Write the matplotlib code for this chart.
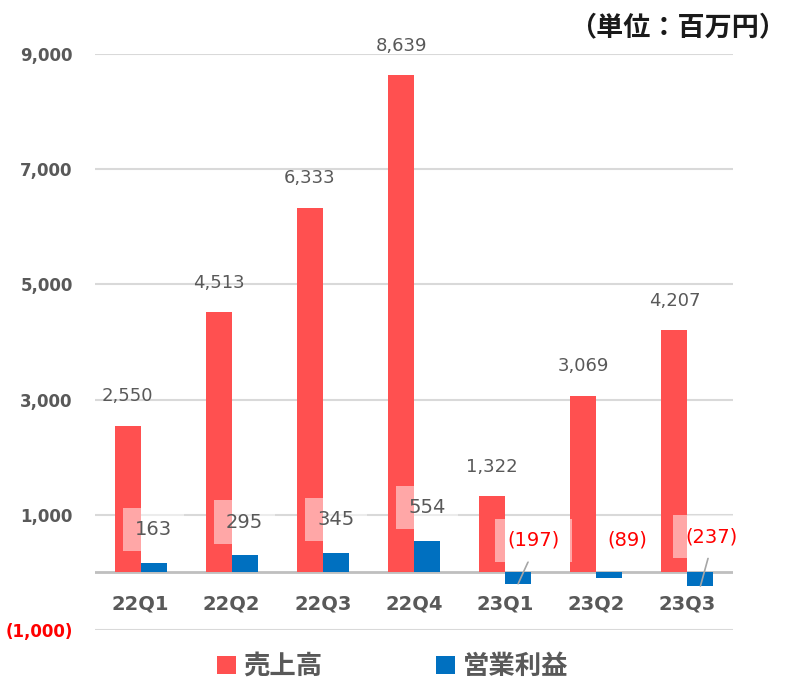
import matplotlib.pyplot as plt

plt.rcParams['font.family'] = ['DejaVu Sans', 'Noto Sans CJK JP']

# data (単位：百万円)
quarters = ['22Q1', '22Q2', '22Q3', '22Q4', '23Q1', '23Q2', '23Q3']
sales = [2550, 4513, 6333, 8639, 1322, 3069, 4207]
op_profit = [163, 295, 345, 554, -197, -89, -237]
y_ticks = [-1000, 1000, 3000, 5000, 7000, 9000]

RED = '#FF5050'
BLUE = '#0070C0'
GRAY = '#595959'


def fmt(v):
    return f'({abs(v):,})' if v < 0 else f'{v:,}'


fig = plt.figure(figsize=(7.87, 6.82), dpi=100)
ax = fig.add_axes([0.1207, 0.0762, 0.8107, 0.8446])

x = range(len(quarters))
w = 0.285
xr = [i - w / 2 for i in x]
xb = [i + w / 2 for i in x]

# gridlines
for t in y_ticks:
    ax.axhline(t, color='#D9D9D9', lw=1.5, zorder=0)
ax.axhline(0, color='#BFBFBF', lw=2, zorder=1)

b1 = ax.bar(xr, sales, w, color=RED, label='売上高', zorder=2)
b2 = ax.bar(xb, op_profit, w, color=BLUE, label='営業利益', zorder=2)

# sales labels
for xi, v in zip(xr, sales):
    ax.annotate(fmt(v), (xi, v), xytext=(0, 21), textcoords='offset points',
                ha='center', va='center', fontsize=13, color=GRAY)

# operating profit labels (white semi-transparent boxes like Excel)
box = dict(boxstyle='square,pad=0.62', fc='white', ec='none', alpha=0.5)
for i, (xi, v) in enumerate(zip(xb, op_profit)):
    if v >= 0:
        ax.text(xi, v + 580, fmt(v), ha='center', va='center', fontsize=14,
                color=GRAY, bbox=box, zorder=3)
    elif i == 5:
        ax.text(xi + 0.2, 560, fmt(v), ha='center', va='center', fontsize=14,
                color='red', bbox=box, zorder=3)
    else:
        dx = 0.17 if i == 4 else 0.12
        ty = 560 if i == 4 else 620
        ax.annotate(fmt(v), (xi, v), xytext=(xi + dx, ty), ha='center', va='center',
                    fontsize=14, color='red', bbox=box, zorder=3,
                    arrowprops=dict(arrowstyle='-', color='#A6A6A6', lw=1.2,
                                    shrinkA=0, shrinkB=0, relpos=(0.5, 0)))

ax.set_xlim(-0.5, 6.5)
ax.set_ylim(-1000, 9000)

ax.set_yticks(y_ticks)
ax.set_yticklabels([fmt(t) for t in y_ticks], fontsize=12, fontweight='bold', color=GRAY)
ax.get_yticklabels()[0].set_color('red')
ax.tick_params(axis='y', length=0, pad=16)

ax.spines['bottom'].set_position(('data', 0))
ax.set_xticks(list(x))
ax.set_xticklabels(quarters, fontsize=14, fontweight='bold', color=GRAY)
ax.tick_params(axis='x', length=0, pad=16)

for s in ax.spines.values():
    s.set_visible(False)

fig.legend(handles=[b1, b2], loc='center', bbox_to_anchor=(0.499, 0.022), ncol=2,
           frameon=False, prop={'size': 19, 'weight': 'bold'}, labelcolor=GRAY,
           handlelength=0.7, handleheight=0.7, handletextpad=0.3, columnspacing=4.3)

fig.text(0.999, 0.9597, '（単位：百万円）', ha='right', va='center', fontsize=19.5,
         fontweight='bold', color='#1A1A1A', family='Noto Sans CJK JP')

fig.savefig('out.png', dpi=100)
